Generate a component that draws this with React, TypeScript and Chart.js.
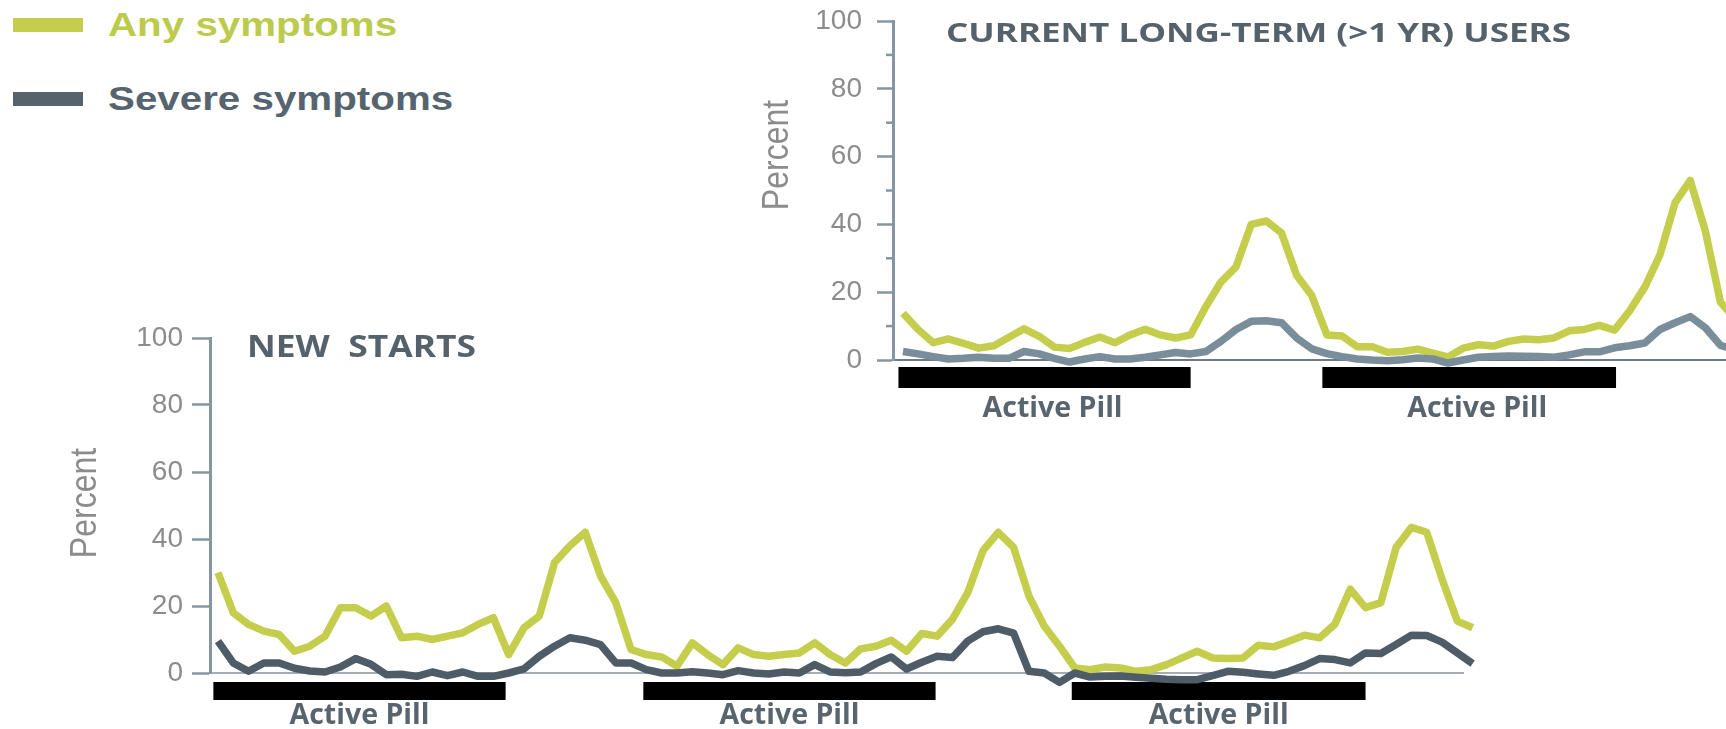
import React, { useEffect, useRef } from "react";
import { Chart, registerables } from "chart.js";

Chart.register(...registerables);

// ---------------- data ----------------
const newStartDays = [
  0, 1, 2, 3, 4, 5, 6, 7, 8, 9, 10, 11, 12, 13, 14, 15, 16, 17, 18, 19, 20,
  21, 22, 23, 24, 25, 26, 27, 28, 29, 30, 31, 32, 33, 34, 35, 36, 37, 38, 39,
  40, 41, 42, 43, 44, 45, 46, 47, 48, 49, 50, 51, 52, 53, 54, 55, 56, 57, 58,
  59, 60, 61, 62, 63, 64, 65, 66, 67, 68, 69, 70, 71, 72, 73, 74, 75, 76, 77,
  78, 79, 80, 81, 82,
];
const newStartAny = [
  30, 18, 14.5, 12.5, 11.5, 6.5, 8, 11, 19.5, 19.5, 17, 20, 10.5, 11, 10, 11,
  12, 14.5, 16.5, 5.5, 13.5, 17, 33, 38, 42, 29, 21, 7, 5.5, 4.8, 2, 9, 5.5,
  2.5, 7.5, 5.5, 5, 5.5, 6, 9, 5.5, 3, 7.2, 8, 9.8, 6.5, 11.8, 11, 16, 24,
  36.5, 42, 37.5, 23, 14, 8, 1.5, 1, 1.8, 1.5, 0.5, 1, 2.5, 4.5, 6.5, 4.5,
  4.3, 4.5, 8.3, 7.8, 9.5, 11.3, 10.5, 14.6, 25, 19.5, 21, 37.5, 43.5, 42, 28,
  15.5, 13.5,
];
const newStartSevere = [
  9.5, 3, 0.5, 3, 3, 1.4, 0.6, 0.3, 1.8, 4.3, 2.6, -0.5, -0.4, -1, 0.3, -0.8,
  0.3, -1, -1, 0, 1.2, 5, 8, 10.5, 9.8, 8.5, 3, 3, 1, 0, 0, 0.4, 0, -0.5, 0.7,
  0, -0.3, 0.3, 0, 2.5, 0.3, 0.1, 0.3, 2.8, 4.8, 1.2, 3.2, 5, 4.6, 9.5, 12.3,
  13.2, 11.9, 0.5, 0, -2.8, 0, -1.2, -1, -0.9, -1.3, -1.6, -1.9, -2, -2, -0.8,
  0.5, 0.2, -0.3, -0.7, 0.5, 2.2, 4.3, 4, 3, 6, 5.8, 8.5, 11.3, 11.2, 9.2, 6,
  2.8,
];
const longTermDays = [
  0, 1, 2, 3, 4, 5, 6, 7, 8, 9, 10, 11, 12, 13, 14, 15, 16, 17, 18, 19, 20,
  21, 22, 23, 24, 25, 26, 27, 28, 29, 30, 31, 32, 33, 34, 35, 36, 37, 38, 39,
  40, 41, 42, 43, 44, 45, 46, 47, 48, 49, 50, 51, 52, 53, 54, 55,
];
const longTermAny = [
  13.8, 9, 5.1, 6.2, 4.9, 3.5, 4.2, 6.7, 9.2, 7, 3.8, 3.4, 5.2, 6.8, 5.1, 7.4,
  9.1, 7.4, 6.5, 7.4, 15.7, 23, 27.5, 40, 41, 37.5, 25, 19, 7.4, 7.1, 3.9,
  3.9, 2.3, 2.5, 3.2, 2, 0.9, 3.5, 4.5, 4.1, 5.5, 6.2, 6, 6.5, 8.6, 9, 10.2,
  8.8, 14.5, 21.5, 31, 46.4, 53, 38, 17, 12,
];
const longTermSevere = [
  2.5, 1.8, 1, 0.3, 0.5, 0.8, 0.5, 0.5, 2.5, 1.8, 0.5, -0.6, 0.3, 1, 0.3, 0.3,
  0.8, 1.5, 2.2, 1.8, 2.5, 5.5, 9, 11.4, 11.6, 11, 6.5, 3.3, 1.9, 1, 0.3, 0,
  -0.2, 0.1, 0.6, 0.3, -0.9, 0, 0.8, 1, 1.2, 1.1, 1, 0.8, 1.5, 2.4, 2.4, 3.6,
  4.2, 5, 9, 11, 12.8, 9.5, 4.3, 3,
];
// active-pill periods (start day, end day)
const newStartPills = [
  [-0.3, 18.8],
  [27.8, 46.9],
  [55.8, 75.0],
];
const longTermPills = [
  [-0.3, 19.0],
  [27.7, 47.1],
];
const percentTicks = [0, 20, 40, 60, 80, 100];
const percentMinorTicks = [10, 30, 50, 70, 90];
const seriesNames = ["Any symptoms", "Severe symptoms"];
const panelTitles = ["NEW  STARTS", "CURRENT LONG-TERM (>1 YR) USERS"];

// ---------------- styles ----------------
const GREEN = "#c4ce4c";
const DARK_GRAY = "#4e5c67";
const LIGHT_SLATE = "#7a8d9a";
const AXIS = "#8596a3";
const TICK_TEXT = "#8c8c8c";
const TITLE_TEXT = "#55626c";
const PILL_TEXT = "#58656f";

function drawText(
  ctx: CanvasRenderingContext2D,
  str: string,
  x: number,
  y: number,
  font: string,
  color: string,
  align: CanvasTextAlign,
  width?: number
) {
  ctx.save();
  ctx.font = font;
  const w = ctx.measureText(str).width;
  const sx = width ? width / w : 1;
  ctx.translate(x, y);
  ctx.scale(sx, 1);
  ctx.textAlign = align;
  ctx.textBaseline = "alphabetic";
  ctx.fillStyle = color;
  ctx.fillText(str, 0, 0);
  ctx.restore();
}

const decorPlugin = {
  id: "decor",
  beforeDatasetsDraw(chart: any, _a: any, o: any) {
    const { ctx, chartArea, scales } = chart;
    const x = scales.x;
    ctx.save();
    ctx.fillStyle = "#000";
    o.pills.forEach(([s, e]: number[]) => {
      const x1 = x.getPixelForValue(s);
      const x2 = x.getPixelForValue(e);
      ctx.fillRect(x1, chartArea.bottom + o.barOffset, x2 - x1, o.barHeight);
    });
    ctx.restore();
  },
  afterDraw(chart: any, _a: any, o: any) {
    const { ctx, chartArea, scales } = chart;
    const x = scales.x;
    const y = scales.y;
    ctx.save();
    if (o.minor) {
      ctx.strokeStyle = AXIS;
      ctx.lineWidth = 2.5;
      o.minor.forEach((v: number) => {
        const py = y.getPixelForValue(v);
        ctx.beginPath();
        ctx.moveTo(chartArea.left - o.minorLen, py);
        ctx.lineTo(chartArea.left, py);
        ctx.stroke();
      });
    }
    o.pills.forEach(([s, e]: number[]) => {
      const cx = (x.getPixelForValue(s) + x.getPixelForValue(e)) / 2;
      drawText(
        ctx,
        "Active Pill",
        cx + o.labelShift,
        chartArea.bottom + o.labelBaseline,
        'bold 28px "Open Sans", sans-serif',
        PILL_TEXT,
        "center",
        140
      );
    });
    drawText(
      ctx,
      o.title,
      chartArea.left + o.titleDx,
      chartArea.top + o.titleBaseline,
      o.titleFont,
      TITLE_TEXT,
      "left",
      o.titleWidth
    );
    ctx.save();
    ctx.translate(o.percentX, o.percentY);
    ctx.rotate(-Math.PI / 2);
    ctx.scale(1, 1.18);
    ctx.font = '32px "Liberation Sans", Arial, sans-serif';
    ctx.textAlign = "center";
    ctx.textBaseline = "middle";
    ctx.fillStyle = TICK_TEXT;
    ctx.fillText("Percent", 0, 0);
    ctx.restore();
    ctx.restore();
  },
};

function makeConfig(p: {
  days: number[];
  any: number[];
  severe: number[];
  severeColor: string;
  xMin: number;
  xMax: number;
  yWidth: number;
  xHeight: number;
  padTop: number;
  padRight: number;
  tickLength: number;
  tickPad: number;
  xAxisColor: string;
  decor: any;
}) {
  return {
    type: "line",
    data: {
      labels: p.days,
      datasets: [
        {
          label: seriesNames[1],
          data: p.severe,
          borderColor: p.severeColor,
          borderWidth: 7.5,
          pointRadius: 0,
          tension: 0,
          borderJoinStyle: "round",
          clip: false,
        },
        {
          label: seriesNames[0],
          data: p.any,
          borderColor: GREEN,
          borderWidth: 7.5,
          pointRadius: 0,
          tension: 0,
          borderJoinStyle: "round",
          clip: false,
        },
      ],
    },
    options: {
      responsive: false,
      animation: false,
      events: [],
      layout: { padding: { top: p.padTop, right: p.padRight, left: 0, bottom: 0 } },
      plugins: {
        legend: { display: false },
        tooltip: { enabled: false },
        decor: p.decor,
      },
      scales: {
        x: {
          type: "linear",
          min: p.xMin,
          max: p.xMax,
          ticks: { display: false },
          grid: { display: false },
          border: { display: true, color: p.xAxisColor, width: 2 },
          afterFit: (s: any) => {
            s.height = p.xHeight;
            s.paddingLeft = 0;
            s.paddingRight = 0;
          },
        },
        y: {
          min: 0,
          max: 100,
          afterBuildTicks: (s: any) => {
            s.ticks = percentTicks.map((v) => ({ value: v }));
          },
          ticks: {
            color: TICK_TEXT,
            padding: p.tickPad,
            font: { family: '"Liberation Sans", Arial, sans-serif', size: 28 },
          },
          grid: {
            drawOnChartArea: false,
            drawTicks: true,
            tickLength: p.tickLength,
            tickColor: AXIS,
            tickWidth: 2.5,
          },
          border: { display: true, color: AXIS, width: 3 },
          afterFit: (s: any) => {
            s.width = p.yWidth;
            s.paddingTop = 0;
            s.paddingBottom = 0;
          },
        },
      },
    },
    plugins: [decorPlugin],
  } as any;
}

function ChartCanvas(props: {
  config: any;
  left: number;
  top: number;
  width: number;
  height: number;
}) {
  const ref = useRef<HTMLCanvasElement | null>(null);
  useEffect(() => {
    if (!ref.current) return;
    const chart = new Chart(ref.current, props.config);
    return () => chart.destroy();
  }, []);
  return (
    <canvas
      ref={ref}
      width={props.width}
      height={props.height}
      style={{
        position: "absolute",
        left: props.left,
        top: props.top,
        width: props.width,
        height: props.height,
      }}
    />
  );
}

const newStartsConfig = makeConfig({
  days: newStartDays,
  any: newStartAny,
  severe: newStartSevere,
  severeColor: DARK_GRAY,
  xMin: -0.52,
  xMax: 81.37,
  yWidth: 210,
  xHeight: 56,
  padTop: 38,
  padRight: 37,
  tickLength: 18,
  tickPad: 9,
  xAxisColor: "#a3adb5",
  decor: {
    pills: newStartPills,
    barOffset: 9,
    barHeight: 18,
    labelBaseline: 51,
    labelShift: 0,
    title: panelTitles[0],
    titleDx: 37,
    titleBaseline: 19,
    titleFont: 'bold 30px "Open Sans", sans-serif',
    titleWidth: 229,
    percentX: 86,
    percentY: 203,
  },
});

const longTermConfig = makeConfig({
  days: longTermDays,
  any: longTermAny,
  severe: longTermSevere,
  severeColor: LIGHT_SLATE,
  xMin: -0.66,
  xMax: 57.93,
  yWidth: 193,
  xHeight: 65,
  padTop: 21,
  padRight: 0,
  tickLength: 16,
  tickPad: 15,
  xAxisColor: "#6f7b84",
  decor: {
    pills: longTermPills,
    barOffset: 7,
    barHeight: 21,
    labelBaseline: 57,
    labelShift: 8,
    title: panelTitles[1],
    titleDx: 53,
    titleBaseline: 21,
    titleFont: 'bold 27px "Open Sans", sans-serif',
    titleWidth: 625,
    minor: percentMinorTicks,
    minorLen: 7,
    percentX: 78,
    percentY: 155,
  },
});

const legendTextStyle: React.CSSProperties = {
  position: "absolute",
  left: 108,
  font: 'bold 34px "Liberation Sans", Arial, sans-serif',
  lineHeight: "34px",
  transform: "scaleX(1.186)",
  transformOrigin: "left top",
  whiteSpace: "nowrap",
};

export default function App() {
  return (
    <div
      style={{
        position: "absolute",
        left: 0,
        top: 0,
        width: 1726,
        height: 729,
        overflow: "hidden",
        background: "#fff",
      }}
    >
      <div style={{ position: "absolute", left: 13, top: 18, width: 70, height: 14, background: GREEN }} />
      <div style={{ ...legendTextStyle, top: 7, color: "#bccb4b" }}>{seriesNames[0]}</div>
      <div style={{ position: "absolute", left: 13, top: 92, width: 70, height: 14, background: "#56636d" }} />
      <div style={{ ...legendTextStyle, top: 81, color: "#56646f" }}>{seriesNames[1]}</div>
      <ChartCanvas config={longTermConfig} left={700} top={0} width={1080} height={425} />
      <ChartCanvas config={newStartsConfig} left={0} top={300} width={1500} height={429} />
    </div>
  );
}
